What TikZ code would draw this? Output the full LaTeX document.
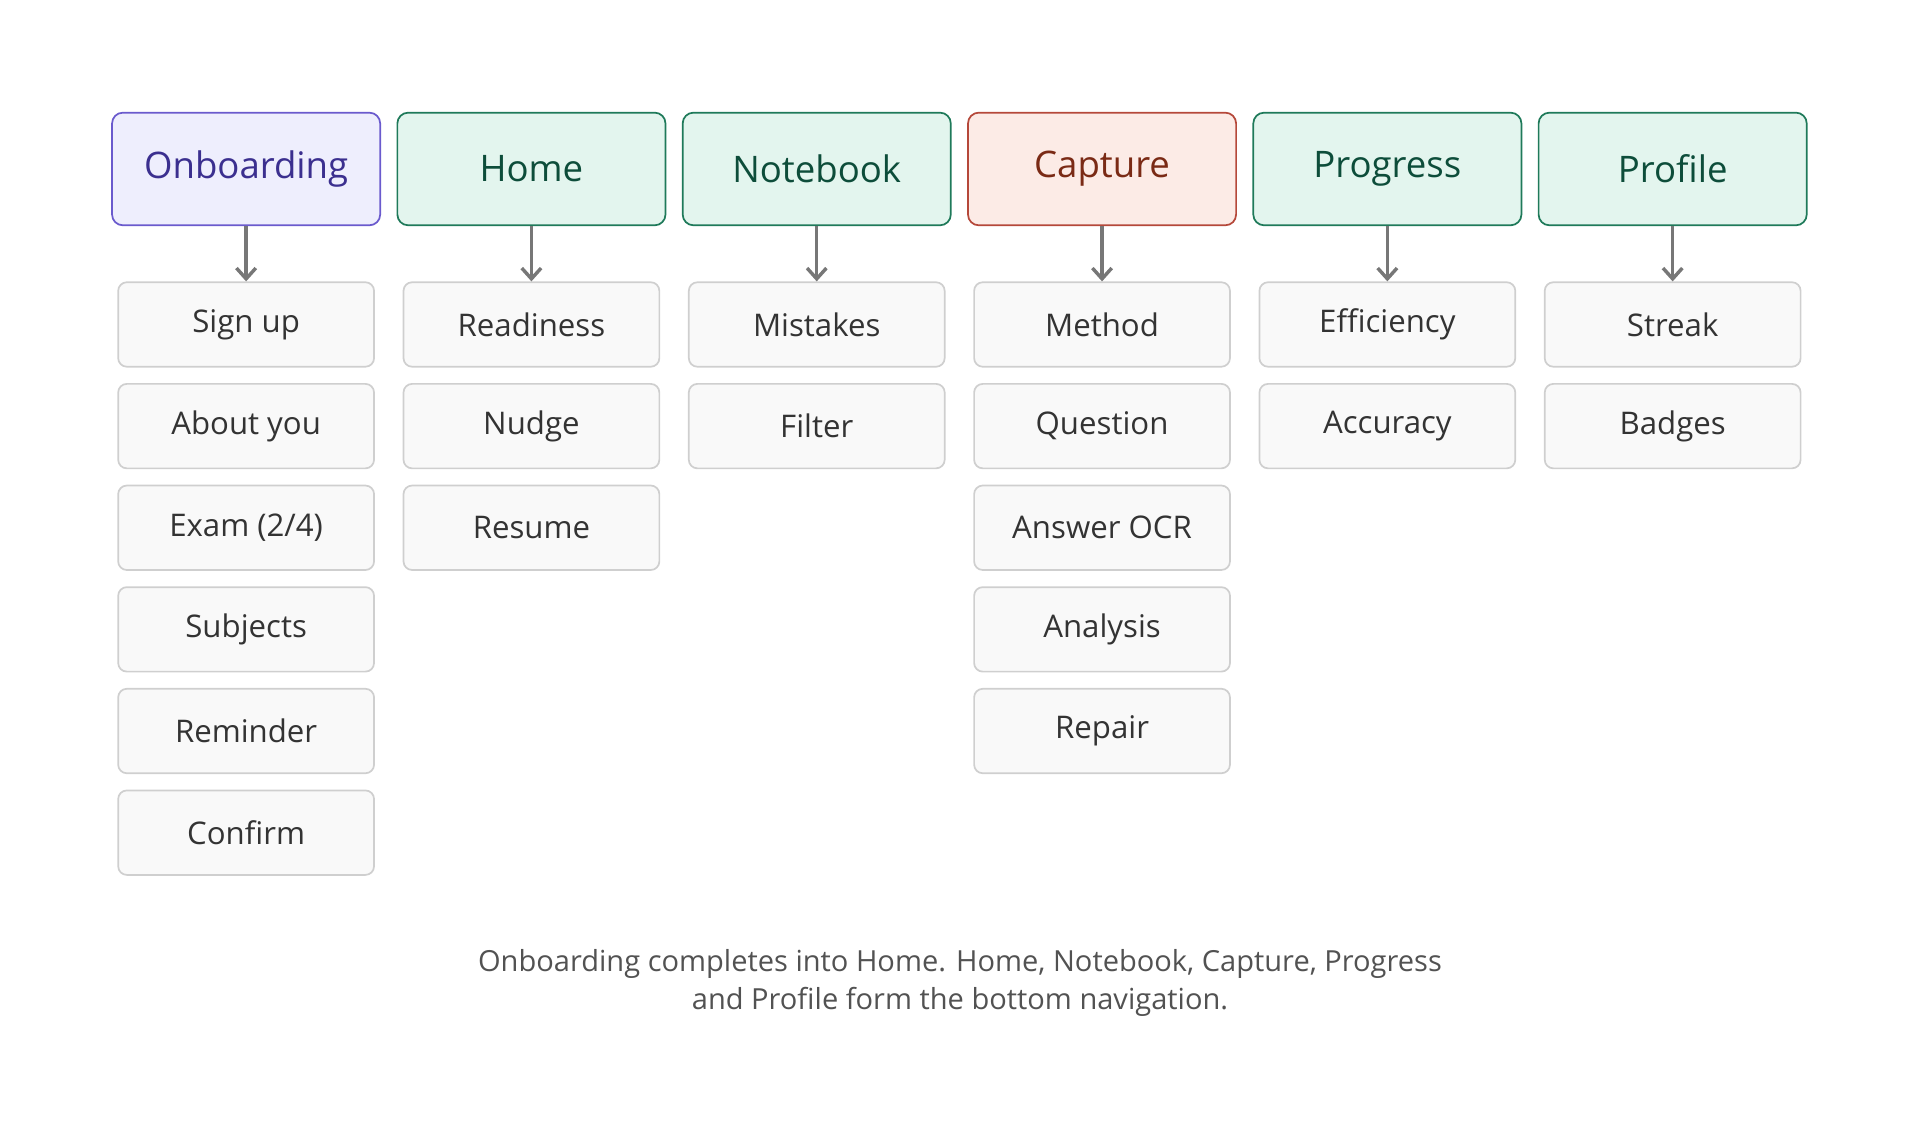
\documentclass[tikz,border=0pt]{standalone}
\usepackage{fontspec}
\setmainfont{Open Sans}
\usetikzlibrary{arrows.meta, positioning}
\definecolor{obfill}{HTML}{EEEEFD}
\definecolor{obline}{HTML}{6A5ACD}
\definecolor{obtext}{HTML}{3B2F8F}
\definecolor{grfill}{HTML}{E3F5EE}
\definecolor{grline}{HTML}{1F7A5A}
\definecolor{grtext}{HTML}{0D4D3A}
\definecolor{cpfill}{HTML}{FCEBE6}
\definecolor{cpline}{HTML}{B5483A}
\definecolor{cptext}{HTML}{7A2A15}
\definecolor{itfill}{HTML}{F9F9F9}
\definecolor{itline}{HTML}{CFCFCF}
\definecolor{ittext}{HTML}{333333}
\definecolor{arrgray}{HTML}{777777}
\tikzset{
    head/.style={draw, rounded corners=5pt, minimum width=4.38cm, minimum height=1.84cm, font=\fontsize{17}{20}\selectfont, line width=0.8pt},
    item/.style={draw=itline, fill=itfill, text=ittext, rounded corners=4pt, minimum width=4.18cm, minimum height=1.38cm, font=\fontsize{14.5}{17}\selectfont, line width=0.8pt},
    down/.style={-{Straight Barb[length=5pt,width=9pt]}, arrgray, line width=1.6pt}
}
\begin{document}
\begin{tikzpicture}[x=0.02cm, y=-0.02cm]
    \useasboundingbox (0,0) rectangle (1568,922);
    % Section headers
    \node[head, fill=obfill, draw=obline, text=obtext] (onboarding) at (201,138) {Onboarding};
    \node[head, fill=grfill, draw=grline, text=grtext] (home) at (434,138) {Home};
    \node[head, fill=grfill, draw=grline, text=grtext] (notebook) at (667,138) {Notebook};
    \node[head, fill=cpfill, draw=cpline, text=cptext] (capture) at (900,138) {Capture};
    \node[head, fill=grfill, draw=grline, text=grtext] (progress) at (1133,138) {Progress};
    \node[head, fill=grfill, draw=grline, text=grtext] (profile) at (1366,138) {Profile};
    % Screens under each section
    \foreach \sec/\x/\list in {onboarding/201/{Sign up,About you,Exam (2/4),Subjects,Reminder,Confirm},
                               home/434/{Readiness,Nudge,Resume},
                               notebook/667/{Mistakes,Filter},
                               capture/900/{Method,Question,Answer OCR,Analysis,Repair},
                               progress/1133/{Efficiency,Accuracy},
                               profile/1366/{Streak,Badges}} {
        \foreach \name [count=\i] in \list {
            \node[item] (\sec-\i) at (\x,{265+83*(\i-1)}) {\name};
        }
        \draw[down] (\sec) -- (\sec-1);
    }
    % Caption
    \node[text=ittext!85, font=\fontsize{13.5}{17.5}\selectfont, align=center] (caption) at (784,803)
        {Onboarding completes into Home. Home, Notebook, Capture, Progress\\and Profile form the bottom navigation.};
\end{tikzpicture}
\end{document}
